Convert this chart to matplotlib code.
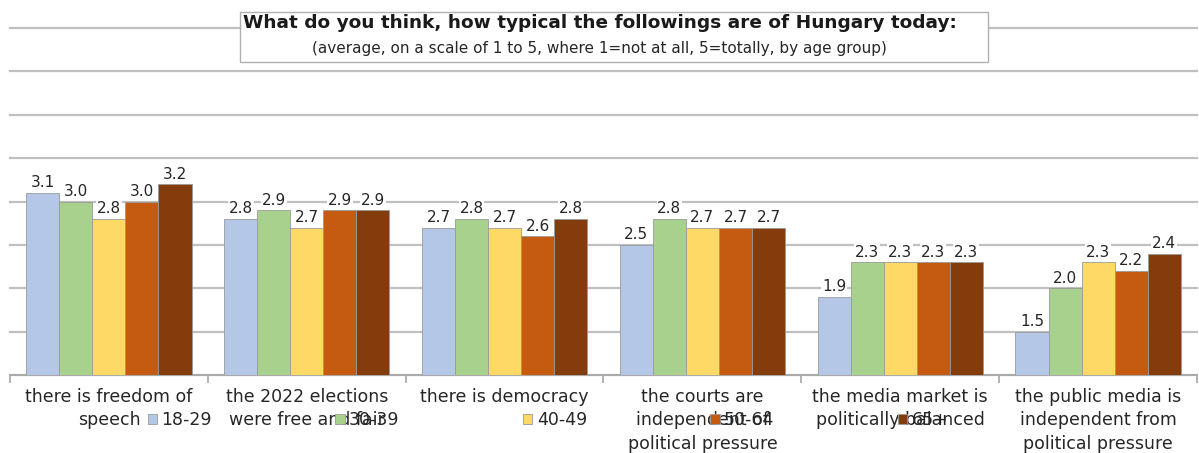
import numpy as np
import matplotlib
matplotlib.use("Agg")
import matplotlib.pyplot as plt

categories = [
    "there is freedom of\nspeech",
    "the 2022 elections\nwere free and fair",
    "there is democracy",
    "the courts are\nindependent of\npolitical pressure",
    "the media market is\npolitically balanced",
    "the public media is\nindependent from\npolitical pressure",
]
age_groups = ["18-29", "30-39", "40-49", "50-64", "65+"]
age_18_29 = [3.1, 2.8, 2.7, 2.5, 1.9, 1.5]
age_30_39 = [3.0, 2.9, 2.8, 2.8, 2.3, 2.0]
age_40_49 = [2.8, 2.7, 2.7, 2.7, 2.3, 2.3]
age_50_64 = [3.0, 2.9, 2.6, 2.7, 2.3, 2.2]
age_65_plus = [3.2, 2.9, 2.8, 2.7, 2.3, 2.4]
series = [age_18_29, age_30_39, age_40_49, age_50_64, age_65_plus]
colors = ["#B4C7E7", "#A9D18E", "#FFD966", "#C55A11", "#843C0C"]

plt.rcParams["font.family"] = ["DejaVu Sans"]

fig = plt.figure(figsize=(11.99, 4.53), dpi=100)
ax = fig.add_axes([10 / 1199, 1 - 375 / 453, 1187 / 1199, 347 / 453])

x = np.arange(len(categories))
width = 0.167
base = 1.0
for i, (vals, col, lab) in enumerate(zip(series, colors, age_groups)):
    pos = x + (i - 2) * width
    heights = np.array(vals) - base
    ax.bar(pos, heights, width, bottom=base, color=col,
           edgecolor="#9a9a9a", linewidth=0.6, label=lab, zorder=3)
    for p, v in zip(pos, vals):
        ax.text(p, v + 0.03, f"{v:.1f}", ha="center", va="bottom",
                fontsize=11, color="#262626", zorder=4,
                bbox=dict(boxstyle="square,pad=0.05", fc="white", ec="none"))

ax.set_xlim(-0.5, len(categories) - 0.5)
ax.set_ylim(1, 5)
ax.set_yticks(np.arange(1, 5.01, 0.5))
ax.yaxis.grid(True, color="#c0c0c0", linewidth=1.6, zorder=0)
for gl in ax.get_ygridlines():
    gl.set_clip_on(False)
ax.tick_params(axis="y", left=False, labelleft=False)
for s in ["left", "right", "top"]:
    ax.spines[s].set_visible(False)
ax.spines["bottom"].set_color("#a6a6a6")
ax.spines["bottom"].set_linewidth(1.2)

# category boundary ticks
ax.set_xticks(np.arange(-0.5, len(categories)))
ax.set_xticklabels([])
ax.tick_params(axis="x", length=6, color="#a6a6a6", width=1.2)
for xi, lab in zip(x, categories):
    ax.text(xi, 0.845, lab, ha="center", va="top", fontsize=12.5,
            color="#262626", linespacing=1.36)

ax.legend(loc="center", bbox_to_anchor=(548 / 1199, 1 - 420 / 453),
          bbox_transform=fig.transFigure, ncol=5, frameon=False,
          fontsize=12.5, handlelength=0.55, handleheight=0.55,
          handletextpad=0.25, columnspacing=7.1, labelcolor="#262626")

fig.text(0.5, 1 - 23 / 453,
         "What do you think, how typical the followings are of Hungary today:",
         ha="center", va="center", fontsize=13.3, fontweight="bold",
         color="#1a1a1a")
fig.text(0.5, 1 - 49 / 453,
         "(average, on a scale of 1 to 5, where 1=not at all, 5=totally, by age group)",
         ha="center", va="center", fontsize=11, color="#262626")
fig.patches.append(plt.Rectangle((240 / 1199, 1 - 62 / 453), 748 / 1199, 50 / 453,
                                 transform=fig.transFigure, fc="white",
                                 ec="#b0b0b0", lw=1.0, zorder=2))
for t in fig.texts:
    t.set_zorder(3)

fig.savefig("out.png", dpi=100)
